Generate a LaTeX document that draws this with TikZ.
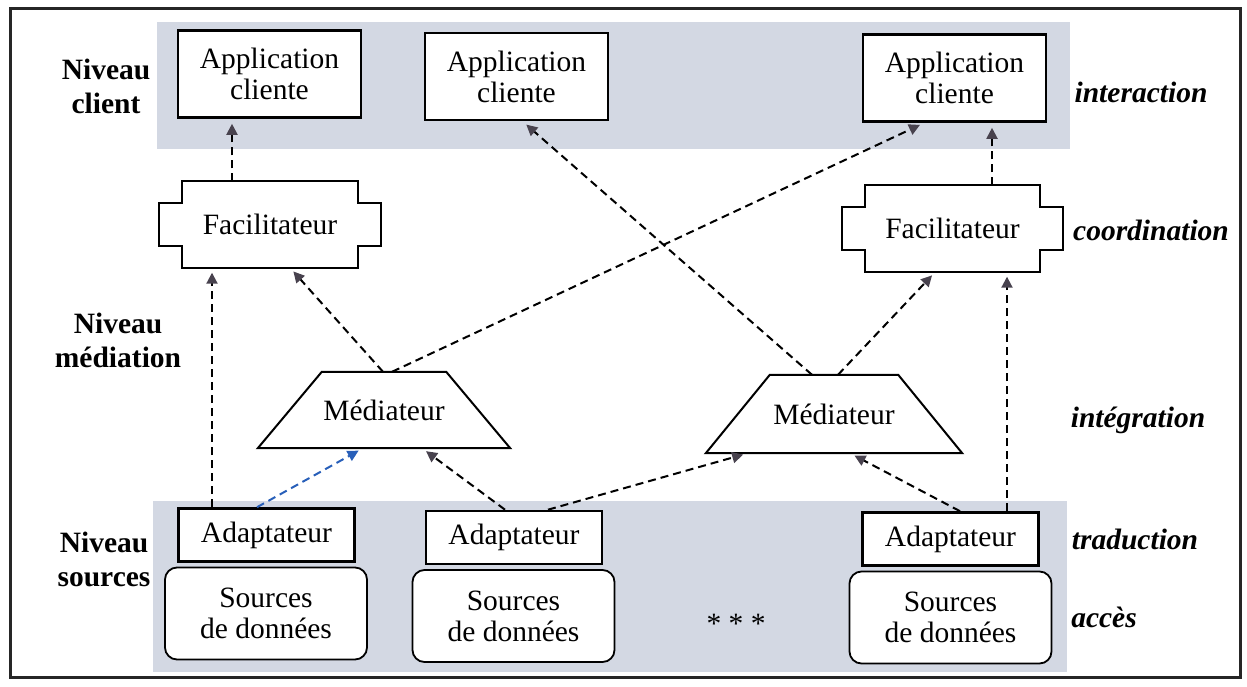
\documentclass[tikz,border=0pt]{standalone}
\usepackage{fontspec}
\setmainfont{Liberation Serif}
\usetikzlibrary{arrows.meta,calc}
\definecolor{bandfill}{RGB}{211,216,227}
\definecolor{headgray}{RGB}{72,66,78}
\definecolor{linkblue}{RGB}{40,95,185}
\pgfdeclarelayer{bands}
\pgfdeclarelayer{outlines}
\pgfsetlayers{bands,outlines,main}

% cross-shaped outline of a facilitator node
\newcommand\facoutline[1]{%
  \draw[shapeline] (#1.north west) -- (#1.north east) -- ++(0,21.5) -- ++(23,0)
    -- ++(0,43) -- ++(-23,0) -- (#1.south east) -- (#1.south west)
    -- ++(0,-21.5) -- ++(-23,0) -- ++(0,-43) -- ++(23,0) -- cycle;}
% trapezium outline of a mediator node
\newcommand\medoutline[1]{%
  \draw[shapeline] (#1.south west) -- (#1.south east)
    -- ($(#1.north east)+(-64,0)$) -- ($(#1.north west)+(64,0)$) -- cycle;}

\begin{document}
\begin{tikzpicture}[x=1pt,y=-1pt,
  font=\fontsize{29.5}{31}\selectfont,
  plainbox/.style={draw, line width=2.6pt, fill=white, inner sep=0pt, align=center},
  appbox/.style={plainbox, minimum width=183pt, minimum height=87pt},
  adbox/.style={plainbox, minimum width=176pt, minimum height=53pt},
  srcbox/.style={draw, line width=1.8pt, fill=white, rounded corners=12pt,
    minimum width=202pt, minimum height=92pt, inner sep=0pt, align=center},
  hiddenbox/.style={inner sep=0pt, align=center},
  shapeline/.style={line width=2pt, fill=white},
  tierlabel/.style={font=\fontsize{29.5}{34}\selectfont\bfseries, align=center},
  rolelabel/.style={font=\fontsize{29.5}{34}\selectfont\bfseries\itshape},
  flow/.style={draw=black, line width=2pt, dash pattern=on 8pt off 5pt,
    -{Triangle[length=11pt,width=11pt,color=headgray]}, shorten >=5pt},
  blueflow/.style={flow, draw=linkblue,
    -{Triangle[length=11pt,width=11pt,color=linkblue]}}]

\useasboundingbox (0,0) rectangle (1247,687);

% outer frame
\draw[line width=3pt, black!85] (10,9) rectangle (1240,677);

% shaded levels
\begin{pgfonlayer}{bands}
  \fill[bandfill] (157,22) rectangle (1070,149);
  \fill[bandfill] (153,501) rectangle (1067,672);
\end{pgfonlayer}

% client applications
\node[appbox] (app1) at (269.5,74) {Application\\cliente};
\node[appbox] (app2) at (516.5,76.5) {Application\\cliente};
\node[appbox] (app3) at (954.5,78) {Application\\cliente};

% facilitators
\node[hiddenbox, minimum width=176pt, minimum height=86pt] (facL) at (270,224.5) {Facilitateur};
\node[hiddenbox, minimum width=175pt, minimum height=86pt] (facR) at (952.5,228.5) {Facilitateur};

% mediators
\node[hiddenbox, minimum width=252pt, minimum height=76pt] (medL) at (384,410) {Médiateur};
\node[hiddenbox, minimum width=256pt, minimum height=78pt] (medR) at (834,414) {Médiateur};

\begin{pgfonlayer}{outlines}
  \facoutline{facL}
  \facoutline{facR}
  \medoutline{medL}
  \medoutline{medR}
\end{pgfonlayer}

% adapters and data sources
\node[adbox] (ad1) at (266.5,535) {Adaptateur};
\node[adbox] (ad2) at (514,537.5) {Adaptateur};
\node[adbox] (ad3) at (950.5,539) {Adaptateur};
\node[srcbox] (src1) at (266,613.5) {Sources\\de données};
\node[srcbox] (src2) at (513.5,616) {Sources\\de données};
\node[srcbox] (src3) at (950.5,617.5) {Sources\\de données};
\node[anchor=base] (dots) at (736,633) {* * *};

% level names
\node[tierlabel] (lvClient) at (106,86) {Niveau\\client};
\node[tierlabel] (lvMed) at (118,340) {Niveau\\médiation};
\node[tierlabel] (lvSrc) at (104,559) {Niveau\\sources};

% roles
\node[rolelabel] (rInter) at (1141,92) {interaction};
\node[rolelabel] (rCoord) at (1151,230) {coordination};
\node[rolelabel] (rInteg) at (1138,420) {intégration};
\node[rolelabel] (rTrad) at (1135,539) {traduction};
\node[rolelabel] (rAcces) at (1104,617) {accès};

% connectors
\draw[flow] ([xshift=-38pt]facL.north) -- ([xshift=-37.5pt]app1.south);
\draw[flow] ([xshift=39.5pt]facR.north) -- ([xshift=37.5pt]app3.south);
\draw[flow] ([xshift=-54.5pt]ad1.north) -- ([xshift=-58pt]facL.south);
\draw[flow] ([xshift=-1pt]medL.north) -- ([xshift=20pt]facL.south);
\draw[flow] ([xshift=8pt]medL.north) -- ([xshift=-30pt]app3.south);
\draw[blueflow] ([xshift=-9.5pt]ad1.north) -- ([xshift=-21pt]medL.south);
\draw[flow] ([xshift=-9pt]ad2.north) -- ([xshift=38pt]medL.south);
\draw[flow] ([xshift=34pt]ad2.north) -- ([xshift=-86pt]medR.south);
\draw[flow] ([xshift=9.5pt]ad3.north) -- ([xshift=16pt]medR.south);
\draw[flow] ([xshift=56.5pt]ad3.north) -- ([xshift=54.5pt]facR.south);
\draw[flow] ([xshift=4pt]medR.north) -- ([xshift=-17pt]facR.south);
\draw[flow] ([xshift=-22pt]medR.north) -- ([xshift=6pt]app2.south);

\end{tikzpicture}
\end{document}
